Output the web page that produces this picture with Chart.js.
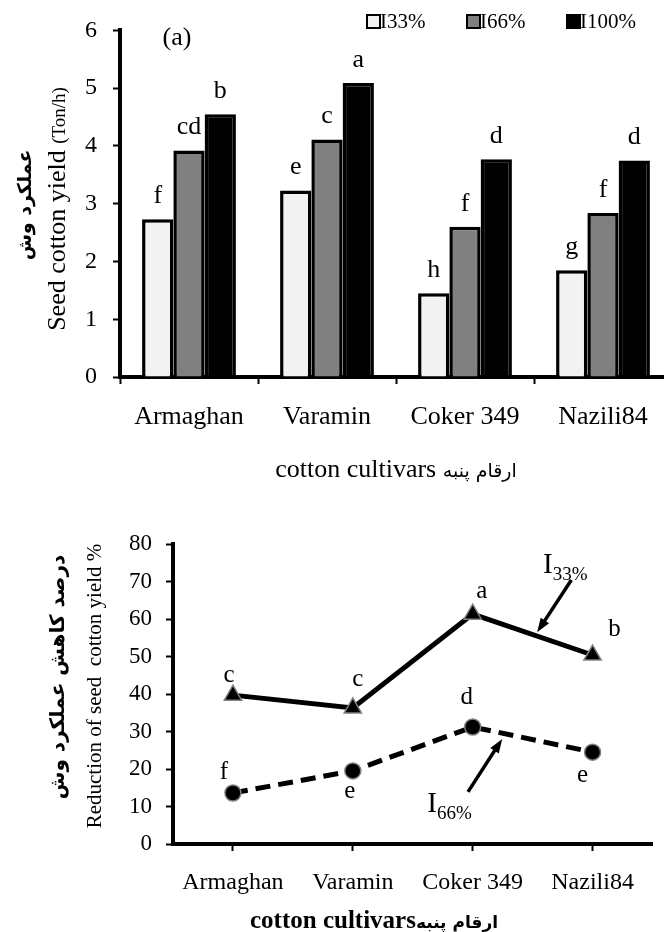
<!DOCTYPE html>
<html><head><meta charset="utf-8">
<script src="https://cdn.jsdelivr.net/npm/chart.js@4.4.1/dist/chart.umd.min.js"></script>
<style>
html,body{margin:0;padding:0;background:#fff;overflow:hidden;width:664px;height:932px}
canvas{display:block}
</style></head><body>
<canvas id="c1" width="672" height="500" style="width:672px;height:500px"></canvas>
<canvas id="c2" width="664" height="432" style="width:664px;height:432px"></canvas>
<script>
// ---- data ----
const cultivars = ['Armaghan', 'Varamin', 'Coker 349', 'Nazili84'];
const seriesNames = ['I33%', 'I66%', 'I100%'];
const yield33 = [2.73, 3.23, 1.45, 1.85];
const yield66 = [3.92, 4.11, 2.60, 2.84];
const yield100 = [4.55, 5.09, 3.77, 3.75];
const yieldLetters33 = ['f', 'e', 'h', 'g'];
const yieldLetters66 = ['cd', 'c', 'f', 'f'];
const yieldLetters100 = ['b', 'a', 'd', 'd'];
const reduction33 = [39.7, 36.3, 61.3, 50.4];
const reduction66 = [13.6, 19.5, 31.2, 24.5];
const reductionLetters33 = ['c', 'c', 'a', 'b'];
const reductionLetters66 = ['f', 'e', 'd', 'e'];
const yieldTicks = [0, 1, 2, 3, 4, 5, 6];
const reductionTicks = [0, 10, 20, 30, 40, 50, 60, 70, 80];

// ---- styles ----
const SERIF = "'Liberation Serif','Times New Roman','DejaVu Sans',serif";
const FA = "'DejaVu Sans',sans-serif";
Chart.defaults.font.family = SERIF;
Chart.defaults.color = '#000';
Chart.defaults.animation = false;

function arrow(ctx, x1, y1, x2, y2) {
  const a = Math.atan2(y2 - y1, x2 - x1), L = 14, W = 5;
  ctx.beginPath(); ctx.moveTo(x1, y1);
  ctx.lineTo(x2 - L * Math.cos(a) * 0.6, y2 - L * Math.sin(a) * 0.6);
  ctx.lineWidth = 3.5; ctx.strokeStyle = '#000'; ctx.stroke();
  ctx.beginPath(); ctx.moveTo(x2, y2);
  ctx.lineTo(x2 - L * Math.cos(a) + W * Math.sin(a), y2 - L * Math.sin(a) - W * Math.cos(a));
  ctx.lineTo(x2 - L * Math.cos(a) - W * Math.sin(a), y2 - L * Math.sin(a) + W * Math.cos(a));
  ctx.closePath(); ctx.fillStyle = '#000'; ctx.fill();
}

// two-font horizontal text centred at (cx, cy)
function mixedText(ctx, parts, cx, cy) {
  ctx.textAlign = 'left'; ctx.textBaseline = 'alphabetic';
  let total = 0;
  parts.forEach(p => { ctx.font = p.font; p.w = ctx.measureText(p.text).width; total += p.w; });
  let x = cx - total / 2;
  parts.forEach(p => { ctx.font = p.font; ctx.fillText(p.text, x, cy); x += p.w; });
}

// ---- top chart: bars ----
const topDecor = {
  id: 'topDecor',
  afterDatasetsDraw(chart) {
    const ctx = chart.ctx; ctx.save();
    ctx.fillStyle = '#000'; ctx.textAlign = 'center'; ctx.textBaseline = 'middle';
    ctx.font = '26px ' + SERIF;
    [yieldLetters33, yieldLetters66, yieldLetters100].forEach((arr, di) => {
      chart.getDatasetMeta(di).data.forEach((bar, i) => ctx.fillText(arr[i], bar.x, bar.y - 23));
    });
    // (a)
    ctx.font = '26px ' + SERIF;
    ctx.fillText('(a)', 177, 38);
    // legend
    const lx = [367, 467, 567];
    chart.data.datasets.forEach((ds, i) => {
      ctx.fillStyle = ds.backgroundColor; ctx.fillRect(lx[i], 15, 13, 13);
      ctx.strokeStyle = '#000'; ctx.lineWidth = 2; ctx.strokeRect(lx[i], 15, 13, 13);
      ctx.fillStyle = '#000'; ctx.font = '21px ' + SERIF; ctx.textAlign = 'left'; ctx.textBaseline = 'alphabetic';
      ctx.fillText(ds.label, lx[i] + 13, 28);
    });
    // x title
    const ca = chart.chartArea;
    mixedText(ctx, [
      { text: 'cotton cultivars ', font: '26px ' + SERIF },
      { text: 'ارقام پنبه', font: '19px ' + FA }
    ], (ca.left + ca.right) / 2, 477);
    // y titles
    ctx.save(); ctx.translate(26, 205); ctx.rotate(-Math.PI / 2);
    ctx.font = 'bold 19px ' + FA; ctx.textAlign = 'center'; ctx.textBaseline = 'middle';
    ctx.fillText('عملکرد وش', 0, 0); ctx.restore();
    ctx.save(); ctx.translate(65, 209); ctx.rotate(-Math.PI / 2);
    mixedText(ctx, [
      { text: 'Seed cotton yield ', font: '26px ' + SERIF },
      { text: '(Ton/h)', font: '19px ' + SERIF }
    ], 0, 0);
    ctx.restore();
    ctx.restore();
  }
};

new Chart(document.getElementById('c1'), {
  type: 'bar',
  data: {
    labels: cultivars,
    datasets: [
      { label: seriesNames[0], data: yield33, backgroundColor: '#f2f2f2' },
      { label: seriesNames[1], data: yield66, backgroundColor: '#808080' },
      { label: seriesNames[2], data: yield100, backgroundColor: '#000000' }
    ]
  },
  options: {
    responsive: false, animation: false,
    layout: { padding: { top: 25, left: 0, right: 0, bottom: 0 } },
    datasets: { bar: { borderColor: '#000', borderWidth: 3.5, categoryPercentage: 0.68, barPercentage: 1.0 } },
    plugins: { legend: { display: false }, tooltip: { enabled: false } },
    scales: {
      x: {
        afterFit: s => { s.height = 123; },
        border: { color: '#000', width: 4 },
        grid: { drawOnChartArea: false, color: '#000', tickColor: '#000', tickLength: 7, tickWidth: 2 },
        ticks: { font: { size: 26 }, padding: 18, color: '#000' }
      },
      y: {
        min: 0, max: 6,
        afterFit: s => { s.width = 120; },
        afterBuildTicks: s => { s.ticks = yieldTicks.map(v => ({ value: v })); },
        border: { color: '#000', width: 4 },
        grid: { drawOnChartArea: false, color: '#000', tickColor: '#000', tickLength: 7, tickWidth: 2 },
        ticks: { font: { size: 24 }, padding: 16, color: '#000' }
      }
    }
  },
  plugins: [topDecor]
});

// ---- bottom chart: lines ----
const letterOff33 = [[-4, -20], [5, -28], [9, -23], [22, -26]];
const letterOff66 = [[-9, -21], [-3, 21], [-6, -30], [-10, 23]];
const bottomDecor = {
  id: 'bottomDecor',
  afterDatasetsDraw(chart) {
    const ctx = chart.ctx; ctx.save();
    const xs = chart.scales.x, ys = chart.scales.y;
    ctx.fillStyle = '#000'; ctx.textAlign = 'center'; ctx.textBaseline = 'middle';
    ctx.font = '25px ' + SERIF;
    chart.getDatasetMeta(0).data.forEach((p, i) => ctx.fillText(reductionLetters33[i], p.x + letterOff33[i][0], p.y + letterOff33[i][1]));
    chart.getDatasetMeta(1).data.forEach((p, i) => ctx.fillText(reductionLetters66[i], p.x + letterOff66[i][0], p.y + letterOff66[i][1]));
    // series labels with arrows
    const P = (i, v) => [xs.getPixelForValue(i), ys.getPixelForValue(v)];
    function sub(main, subs, i, v) {
      const [x, y] = P(i, v);
      ctx.textAlign = 'left'; ctx.textBaseline = 'alphabetic';
      ctx.font = '29px ' + SERIF; ctx.fillText(main, x, y);
      const w = ctx.measureText(main).width;
      ctx.font = '19px ' + SERIF; ctx.fillText(subs, x + w, y + 7);
    }
    sub('I', '33%', 2.587, 72.3);
    sub('I', '66%', 1.621, 8.5);
    let a = P(2.823, 70.4), b = P(2.538, 56.5); arrow(ctx, a[0], a[1], b[0], b[1]);
    a = P(1.961, 13.9); b = P(2.246, 28.0); arrow(ctx, a[0], a[1], b[0], b[1]);
    // y titles
    ctx.fillStyle = '#000';
    ctx.save(); ctx.translate(59, 177); ctx.rotate(-Math.PI / 2);
    ctx.font = 'bold 20px ' + FA; ctx.textAlign = 'center'; ctx.textBaseline = 'middle';
    ctx.fillText('درصد کاهش عملکرد وش', 0, 0); ctx.restore();
    ctx.save(); ctx.translate(101, 186); ctx.rotate(-Math.PI / 2);
    ctx.font = '21px ' + SERIF; ctx.textAlign = 'center'; ctx.textBaseline = 'alphabetic';
    ctx.fillText('Reduction of seed  cotton yield %', 0, 0); ctx.restore();
    // x title
    mixedText(ctx, [
      { text: 'cotton cultivars', font: 'bold 25px ' + SERIF },
      { text: 'ارقام پنبه', font: 'bold 17px ' + FA }
    ], 374, 428);
    ctx.restore();
  }
};

new Chart(document.getElementById('c2'), {
  type: 'line',
  data: {
    labels: cultivars,
    datasets: [
      { label: seriesNames[0], data: reduction33, borderColor: '#000', borderWidth: 5, pointStyle: 'triangle', pointRadius: 10,
        pointBackgroundColor: '#000', pointBorderColor: '#808080', pointBorderWidth: 1.5, tension: 0 },
      { label: seriesNames[1], data: reduction66, borderColor: '#000', borderWidth: 5, borderDash: [15, 8], pointStyle: 'circle', pointRadius: 8,
        pointBackgroundColor: '#000', pointBorderColor: '#808080', pointBorderWidth: 1.5, tension: 0 }
    ]
  },
  options: {
    responsive: false, animation: false,
    layout: { padding: { top: 44, left: 0, right: 0, bottom: 0 } },
    plugins: { legend: { display: false }, tooltip: { enabled: false } },
    scales: {
      x: {
        offset: true,
        afterFit: s => { s.height = 88; },
        border: { color: '#000', width: 4 },
        grid: { offset: false, drawOnChartArea: false, color: '#000', tickColor: '#000', tickLength: 7, tickWidth: 2 },
        ticks: { font: { size: 24 }, padding: 17, color: '#000' }
      },
      y: {
        min: 0, max: 80,
        afterFit: s => { s.width = 173; },
        afterBuildTicks: s => { s.ticks = reductionTicks.map(v => ({ value: v })); },
        border: { color: '#000', width: 4 },
        grid: { drawOnChartArea: false, color: '#000', tickColor: '#000', tickLength: 7, tickWidth: 2 },
        ticks: { font: { size: 23 }, padding: 14, color: '#000' }
      }
    }
  },
  plugins: [bottomDecor]
});
</script>
</body></html>
